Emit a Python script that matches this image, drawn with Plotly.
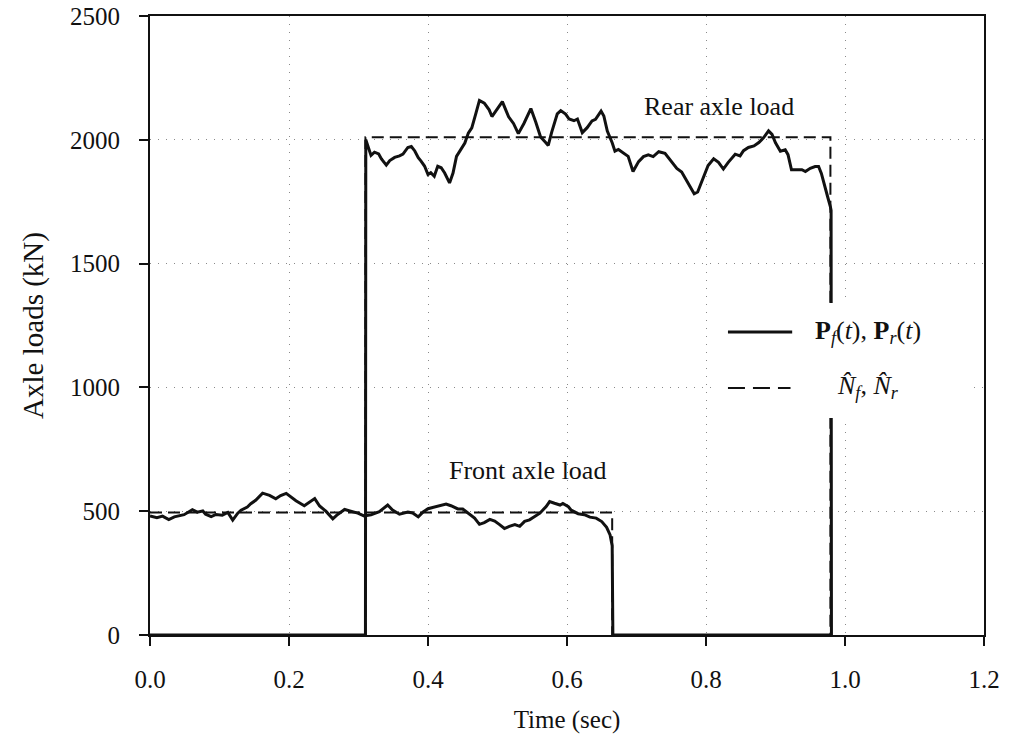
import plotly.graph_objects as go

# Measured axle load histories (time in s, load in kN)
front_t = [0.000, 0.010, 0.018, 0.027, 0.035, 0.049, 0.061, 0.068, 0.076, 0.080,
           0.088, 0.095, 0.104, 0.112, 0.119, 0.126, 0.131, 0.140, 0.145, 0.152,
           0.162, 0.172, 0.181, 0.188, 0.196, 0.203, 0.210, 0.222, 0.229, 0.237,
           0.244, 0.253, 0.263, 0.270, 0.280, 0.289, 0.299, 0.308, 0.318, 0.330,
           0.342, 0.349, 0.359, 0.371, 0.378, 0.386, 0.393, 0.400, 0.409, 0.419,
           0.426, 0.433, 0.443, 0.450, 0.460, 0.467, 0.474, 0.481, 0.489, 0.496,
           0.503, 0.510, 0.517, 0.525, 0.532, 0.539, 0.546, 0.553, 0.561, 0.570,
           0.575, 0.582, 0.590, 0.594, 0.602, 0.606, 0.616, 0.625, 0.633, 0.642,
           0.650, 0.657, 0.662, 0.665, 0.666, 0.980]
front_load = [481, 474, 480, 466, 477, 486, 506, 496, 501, 488,
              478, 487, 484, 495, 464, 491, 504, 517, 530, 544,
              573, 564, 550, 563, 572, 556, 542, 522, 535, 551,
              521, 500, 469, 487, 507, 500, 492, 481, 485, 498,
              525, 505, 488, 497, 493, 477, 497, 510, 516, 525,
              529, 522, 509, 509, 488, 472, 447, 454, 467, 460,
              446, 430, 439, 446, 439, 459, 465, 479, 492, 519,
              539, 532, 525, 531, 518, 504, 490, 486, 476, 472,
              458, 435, 404, 361, 0, 0]

rear_t = [0.000, 0.310, 0.3105, 0.315, 0.318, 0.323, 0.329, 0.333, 0.340, 0.345,
          0.352, 0.359, 0.364, 0.371, 0.376, 0.381, 0.386, 0.390, 0.395, 0.400,
          0.404, 0.409, 0.414, 0.419, 0.424, 0.431, 0.436, 0.441, 0.448, 0.453,
          0.458, 0.463, 0.469, 0.474, 0.481, 0.488, 0.492, 0.500, 0.507, 0.512,
          0.516, 0.523, 0.530, 0.538, 0.548, 0.555, 0.562, 0.569, 0.573, 0.578,
          0.586, 0.591, 0.598, 0.603, 0.610, 0.615, 0.622, 0.629, 0.636, 0.641,
          0.649, 0.653, 0.658, 0.665, 0.669, 0.674, 0.681, 0.688, 0.695, 0.703,
          0.710, 0.717, 0.724, 0.732, 0.741, 0.751, 0.758, 0.765, 0.772, 0.776,
          0.783, 0.788, 0.796, 0.803, 0.811, 0.818, 0.825, 0.832, 0.842, 0.849,
          0.854, 0.861, 0.869, 0.876, 0.883, 0.890, 0.895, 0.900, 0.907, 0.914,
          0.918, 0.923, 0.930, 0.938, 0.943, 0.950, 0.957, 0.962, 0.966, 0.971,
          0.975, 0.979, 0.980, 0.9805]
rear_load = [0, 0, 2000, 1957, 1937, 1950, 1943, 1923, 1898, 1916,
             1929, 1935, 1942, 1969, 1973, 1955, 1928, 1914, 1894, 1860,
             1867, 1853, 1893, 1887, 1866, 1826, 1866, 1933, 1967, 1987,
             2027, 2048, 2108, 2159, 2148, 2121, 2094, 2128, 2154, 2120,
             2093, 2066, 2025, 2066, 2126, 2072, 2011, 1990, 1977, 2031,
             2105, 2118, 2104, 2084, 2077, 2084, 2029, 2049, 2076, 2083,
             2116, 2096, 2035, 1988, 1954, 1961, 1947, 1933, 1872, 1912,
             1932, 1939, 1932, 1952, 1945, 1911, 1884, 1870, 1836, 1816,
             1782, 1789, 1849, 1896, 1923, 1909, 1882, 1909, 1942, 1935,
             1956, 1969, 1975, 1989, 2009, 2036, 2022, 1988, 1954, 1960,
             1940, 1879, 1879, 1879, 1872, 1885, 1892, 1892, 1864, 1817,
             1770, 1729, 1715, 0]

# Static (nominal) axle loads
nf_t = [0.0, 0.665, 0.665]
nf_load = [495, 495, 0]
nr_t = [0.310, 0.310, 0.979, 0.979]
nr_load = [0, 2010, 2010, 0]

x_ticks = [0.0, 0.2, 0.4, 0.6, 0.8, 1.0, 1.2]
x_ticktext = ["0.0", "0.2", "0.4", "0.6", "0.8", "1.0", "1.2"]
y_ticks = [0, 500, 1000, 1500, 2000, 2500]

FONT = "Liberation Serif"
INK = "#111111"

fig = go.Figure()
fig.add_trace(go.Scatter(x=nf_t, y=nf_load, mode="lines",
                         line=dict(color=INK, width=2, dash="12px,6px"),
                         showlegend=False))
fig.add_trace(go.Scatter(x=nr_t, y=nr_load, mode="lines",
                         line=dict(color=INK, width=2, dash="12px,6px"),
                         showlegend=False))
fig.add_trace(go.Scatter(x=front_t, y=front_load, mode="lines",
                         line=dict(color=INK, width=3),
                         showlegend=False))
fig.add_trace(go.Scatter(x=rear_t, y=rear_load, mode="lines",
                         line=dict(color=INK, width=3),
                         showlegend=False))

axis_common = dict(
    showline=True, linecolor=INK, linewidth=2, mirror=True,
    ticks="outside", ticklen=9, tickwidth=2, tickcolor=INK,
    showgrid=True, gridcolor="#8a8a8a", gridwidth=1, griddash="1px,7px",
    zeroline=False, automargin=False,
    tickfont=dict(family=FONT, size=25, color=INK),
)

fig.update_xaxes(range=[0, 1.2], tickvals=x_ticks, ticktext=x_ticktext,
                 ticklabelstandoff=12,
                 title=dict(text="Time (sec)", font=dict(family=FONT, size=25, color=INK),
                            standoff=18),
                 **axis_common)
fig.update_yaxes(range=[0, 2500], tickvals=y_ticks,
                 ticklabelstandoff=14,
                 title=dict(text="Axle loads (kN)", font=dict(family=FONT, size=29, color=INK),
                            standoff=18),
                 **axis_common)

# Legend block: white panel, line samples and labels
shapes = [
    dict(type="rect", xref="paper", yref="paper", x0=0.6775, x1=0.981, y0=0.3506, y1=0.5363,
         fillcolor="white", line=dict(width=0), layer="above"),
    dict(type="line", xref="paper", yref="paper", x0=0.693, x1=0.770, y0=0.4895, y1=0.4895,
         line=dict(color=INK, width=3), layer="above"),
    dict(type="line", xref="paper", yref="paper", x0=0.693, x1=0.768, y0=0.399, y1=0.399,
         line=dict(color=INK, width=2, dash="17px,8px"), layer="above"),
]

annotations = [
    dict(x=0.795, y=0.4895, xref="paper", yref="paper", xanchor="left", yanchor="middle",
         showarrow=False, font=dict(family=FONT, size=26, color=INK),
         text="<b>P</b><sub><i>f</i></sub>(<i>t</i>), <b>P</b><sub><i>r</i></sub>(<i>t</i>)"),
    dict(x=0.821, y=0.40, xref="paper", yref="paper", xanchor="left", yanchor="middle",
         showarrow=False, font=dict(family=FONT, size=26, color=INK),
         text="<i>N\u0302</i><sub><i>f</i></sub>, <i>N\u0302</i><sub><i>r</i></sub>"),
    dict(x=0.818, y=2135, xref="x", yref="y", showarrow=False,
         font=dict(family=FONT, size=26, color=INK), text="Rear axle load"),
    dict(x=0.543, y=665, xref="x", yref="y", showarrow=False,
         font=dict(family=FONT, size=26, color=INK), text="Front axle load"),
]

fig.update_layout(
    width=1015, height=744,
    margin=dict(l=150, r=31, t=16, b=109, autoexpand=False),
    paper_bgcolor="white", plot_bgcolor="white",
    font=dict(family=FONT, color=INK),
    shapes=shapes, annotations=annotations,
    showlegend=False,
)

fig.write_html("out.html")
